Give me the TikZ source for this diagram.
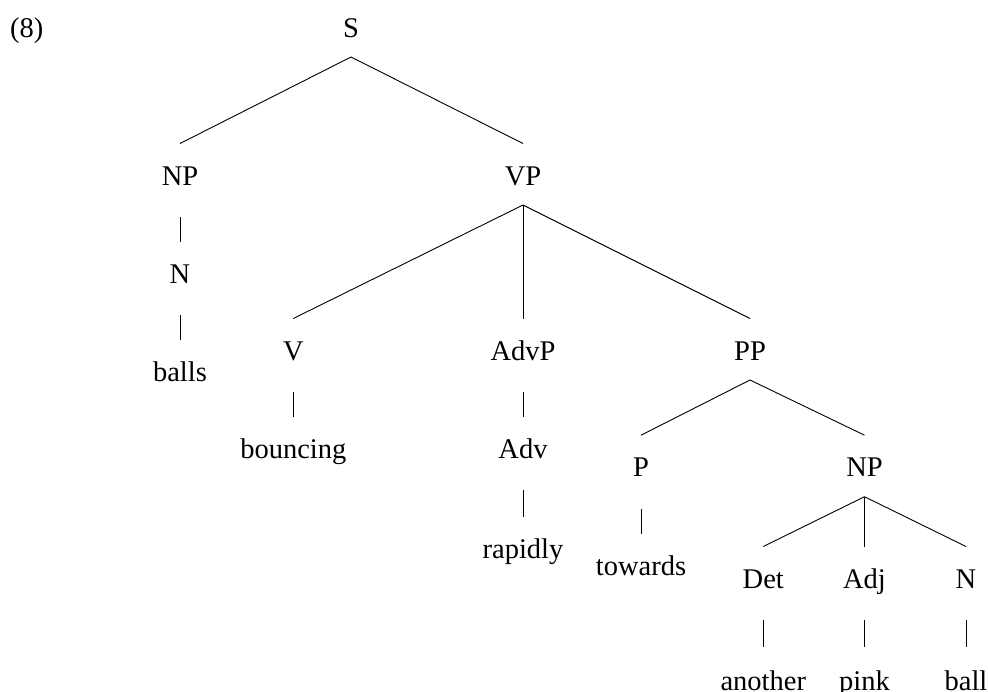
\documentclass[tikz,border=0pt]{standalone}
\usepackage{fontspec}
\setmainfont{Liberation Serif}
\begin{document}
\begin{tikzpicture}[x=1pt,y=-1pt,
  lab/.style={anchor=base,inner sep=0pt,font=\fontsize{28.5}{34}\selectfont},
  edge/.style={line width=0.9pt,line cap=butt}]
\useasboundingbox (0,0) rectangle (988,691);
% nodes
\node[lab,anchor=base west] (num) at (10,37.5) {(8)};
\node[lab] (S) at (351,37) {S};
\node[lab] (NPa) at (180,185) {NP};
\node[lab] (VP) at (523,185) {VP};
\node[lab] (Na) at (180,283) {N};
\node[lab] (balls) at (180,381) {balls};
\node[lab] (V) at (293.3,360) {V};
\node[lab] (AdvP) at (523,360) {AdvP};
\node[lab] (PP) at (750,360) {PP};
\node[lab] (bouncing) at (293.3,458) {bouncing};
\node[lab] (Adv) at (523,458) {Adv};
\node[lab] (rapidly) at (523,558) {rapidly};
\node[lab] (P) at (641,476.7) {P};
\node[lab] (NPb) at (864.5,476.7) {NP};
\node[lab] (towards) at (641,575.5) {towards};
\node[lab] (Det) at (763.3,588) {Det};
\node[lab] (Adj) at (864.5,588) {Adj};
\node[lab] (Nb) at (966,588) {N};
\node[lab] (another) at (763.3,690.5) {another};
\node[lab] (pink) at (864.5,690.5) {pink};
\node[lab] (ball) at (966,690.5) {ball};
% branching edges
\foreach \p/\c in {S/NPa,S/VP,VP/V,VP/AdvP,VP/PP,PP/P,PP/NPb,NPb/Det,NPb/Adj,NPb/Nb}
  \draw[edge] ([yshift=-20pt]\p.base) -- ([yshift=41.5pt]\c.base);
% unary edges
\foreach \p/\c in {NPa/Na,Na/balls,V/bouncing,AdvP/Adv,Adv/rapidly,P/towards}
  \draw[edge] ([yshift=-32pt]\p.base) -- ([yshift=41.5pt]\c.base);
\foreach \p/\c in {Det/another,Adj/pink,Nb/ball}
  \draw[edge] ([yshift=-32pt]\p.base) -- ([yshift=44pt]\c.base);
\end{tikzpicture}
\end{document}
